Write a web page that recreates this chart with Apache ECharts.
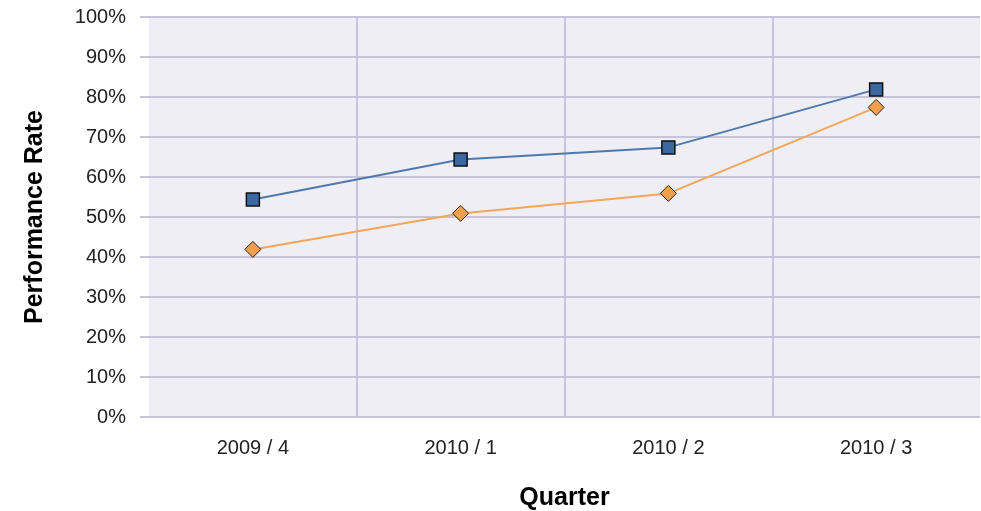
<!DOCTYPE html>
<html>
<head>
<meta charset="utf-8">
<script src="https://cdn.jsdelivr.net/npm/echarts@6/dist/echarts.min.js"></script>
<style>
  html, body { margin: 0; padding: 0; background: #fff; }
  #chart { width: 981px; height: 511px; }
</style>
</head>
<body>
<div id="chart"></div>
<script>
// quarters and the two rate series (in %)
var quarters = ["2009 / 4", "2010 / 1", "2010 / 2", "2010 / 3"];
var seriesA = [54.4, 64.4, 67.4, 81.9];
var seriesB = [41.9, 50.9, 55.9, 77.4];

var gridColor = "#c5c4d8";
var font = "Liberation Sans, Arial, sans-serif";

var myChart = echarts.init(document.getElementById("chart"));

var option = {
  animation: false,
  grid: {
    left: 149,
    right: 1,
    top: 17,
    bottom: 94,
    outerBoundsMode: "none",
    containLabel: false,
    show: true,
    backgroundColor: "#efeef4",
    borderWidth: 0,
  },
  xAxis: {
    type: "category",
    data: quarters,
    boundaryGap: true,
    name: "Quarter",
    nameLocation: "middle",
    nameGap: 69,
    nameTextStyle: { fontFamily: font, fontSize: 25, fontWeight: "bold", color: "#000" },
    axisLine: { show: false },
    axisTick: { show: false },
    axisLabel: { margin: 21, fontFamily: font, fontSize: 20, color: "#222" },
    splitLine: {
      show: true,
      showMinLine: false,
      showMaxLine: false,
      lineStyle: { color: gridColor, width: 2 },
    },
  },
  yAxis: {
    type: "value",
    min: 0,
    max: 100,
    interval: 10,
    name: "Performance Rate",
    nameLocation: "middle",
    nameGap: 101,
    nameTextStyle: { fontFamily: font, fontSize: 25, fontWeight: "bold", color: "#000" },
    axisLine: { show: false },
    axisTick: { show: true, length: 9, lineStyle: { color: gridColor, width: 2 } },
    axisLabel: { margin: 23, fontFamily: font, fontSize: 20, color: "#222", formatter: "{value}%" },
    splitLine: { show: true, lineStyle: { color: gridColor, width: 2 } },
  },
  series: [
    {
      name: "A",
      type: "line",
      data: seriesA,
      symbol: "rect",
      symbolSize: 13,
      lineStyle: { color: "#4d79ad", width: 2 },
      itemStyle: { color: "#3a68a2", borderColor: "#111", borderWidth: 1.5 },
      z: 3,
    },
    {
      name: "B",
      type: "line",
      data: seriesB,
      symbol: "diamond",
      symbolSize: 16,
      lineStyle: { color: "#f2a65a", width: 2 },
      itemStyle: { color: "#f0a04c", borderColor: "#222", borderWidth: 1 },
      z: 2,
    },
  ],
};

myChart.setOption(option);
</script>
</body>
</html>
